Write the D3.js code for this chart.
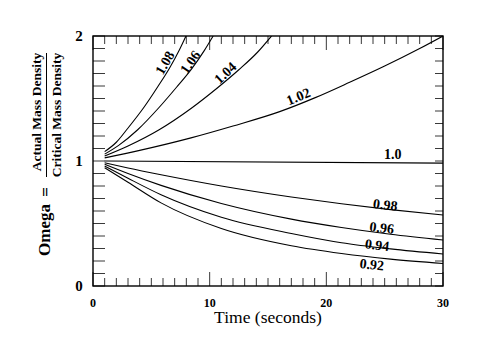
<!DOCTYPE html>
<html>
<head>
<meta charset="utf-8">
<script src="https://cdn.jsdelivr.net/npm/d3@7"></script>
<style>
  html, body { margin: 0; padding: 0; background: #fff; }
  svg { display: block; }
  text { font-family: "Liberation Serif", "DejaVu Serif", serif; fill: #000; }
</style>
</head>
<body>
<svg id="chart" width="479" height="349"></svg>
<script>
// ---- data ----
const times108 = [1, 2, 2.97, 4.4, 5.55, 6.54, 7.4, 7.97];
const omega108 = [1.075, 1.15, 1.26, 1.434, 1.594, 1.74, 1.888, 2.0];

const times106 = [1, 2.2, 3.83, 5.68, 7.16, 8.44, 9.55, 10.3];
const omega106 = [1.055, 1.125, 1.25, 1.43, 1.59, 1.735, 1.885, 2.0];

const times104 = [1, 3, 5.67, 8.4, 10.6, 12.5, 14.1, 15.3];
const omega104 = [1.04, 1.12, 1.25, 1.42, 1.58, 1.73, 1.87, 2.0];

const times102 = [1, 4, 8.4, 12, 16, 19, 22, 25, 28, 30];
const omega102 = [1.025, 1.085, 1.185, 1.28, 1.395, 1.505, 1.63, 1.76, 1.90, 2.0];

const times100 = [1, 30];
const omega100 = [1.0, 0.983];

const timesLow = [1, 3, 5.83, 11, 17, 21.3, 25.5, 30];
const omega098 = [0.986, 0.944, 0.89, 0.80, 0.712, 0.658, 0.611, 0.568];
const omega096 = [0.974, 0.90, 0.805, 0.66, 0.535, 0.468, 0.414, 0.368];
const omega094 = [0.96, 0.862, 0.73, 0.55, 0.42, 0.346, 0.297, 0.256];
const omega092 = [0.946, 0.83, 0.665, 0.46, 0.322, 0.26, 0.215, 0.18];

const curveNames = ["1.08", "1.06", "1.04", "1.02", "1.0", "0.98", "0.96", "0.94", "0.92"];
const xTickLabels = ["0", "10", "20", "30"];
const yTickLabels = ["0", "1", "2"];

// label anchors in data units (t, omega) and rotation
const labelT = [6.17, 8.35, 11.35, 17.6, 25.7, 25.05, 24.75, 24.35, 23.9];
const labelO = [1.784, 1.79, 1.704, 1.515, 1.05, 0.648, 0.464, 0.326, 0.17];
const labelRot = [-60, -55, -43, -22, 0, 7, 7, 7, 6];

// ---- build ----
const series = [
  [times108, omega108], [times106, omega106], [times104, omega104],
  [times102, omega102], [times100, omega100],
  [timesLow, omega098], [timesLow, omega096], [timesLow, omega094], [timesLow, omega092]
].map(([t, o], i) => ({ name: curveNames[i], pts: t.map((v, j) => [v, o[j]]) }));

const svg = d3.select("#chart");
svg.append("rect").attr("width", 479).attr("height", 349).attr("fill", "#fff");

const x0 = 93, x1 = 443, y0 = 286, y1 = 36;
const x = d3.scaleLinear().domain([0, 30]).range([x0, x1]);
const y = d3.scaleLinear().domain([0, 2]).range([y0, y1]);

svg.append("defs").append("clipPath").attr("id", "clip")
  .append("rect").attr("x", x0).attr("y", y1).attr("width", x1 - x0).attr("height", y0 - y1);

// ticks
const minorX = d3.range(0, 31, 1);
const ticksG = svg.append("g").attr("stroke", "#222").attr("stroke-width", 0.9);
minorX.forEach(v => {
  const len = (v % 10 === 0) ? 14 : 8;
  ticksG.append("line").attr("x1", x(v)).attr("x2", x(v)).attr("y1", y0).attr("y2", y0 - len);
  ticksG.append("line").attr("x1", x(v)).attr("x2", x(v)).attr("y1", y1).attr("y2", y1 + len);
});
const minorY = d3.range(0, 21, 1).map(d => d / 10);
minorY.forEach(v => {
  ticksG.append("line").attr("x1", x0).attr("x2", x0 + 12).attr("y1", y(v)).attr("y2", y(v));
  ticksG.append("line").attr("x1", x1).attr("x2", x1 - 8).attr("y1", y(v)).attr("y2", y(v));
});

// frame
svg.append("rect").attr("x", x0).attr("y", y1).attr("width", x1 - x0).attr("height", y0 - y1)
  .attr("fill", "none").attr("stroke", "#000").attr("stroke-width", 1.4);

// curves
const line = d3.line().x(d => x(d[0])).y(d => y(d[1])).curve(d3.curveMonotoneX);
svg.append("g").attr("clip-path", "url(#clip)")
  .selectAll("path").data(series).join("path")
  .attr("d", d => line(d.pts))
  .attr("fill", "none").attr("stroke", "#000").attr("stroke-width", 1.1);

// curve labels
svg.append("g").selectAll("text").data(series).join("text")
  .attr("transform", (d, i) => `translate(${x(labelT[i])},${y(labelO[i])}) rotate(${labelRot[i]})`)
  .attr("text-anchor", "middle").attr("dominant-baseline", "central")
  .attr("font-size", 14).attr("font-weight", "bold")
  .text(d => d.name);

// x tick labels
svg.append("g").selectAll("text").data(xTickLabels).join("text")
  .attr("x", d => x(+d)).attr("y", 307)
  .attr("text-anchor", "middle").attr("font-size", 12).attr("font-weight", "bold")
  .text(d => d);

// y tick labels
svg.append("g").selectAll("text").data(yTickLabels).join("text")
  .attr("x", 79).attr("y", d => y(+d))
  .attr("text-anchor", "middle").attr("dominant-baseline", "central")
  .attr("font-size", 15).attr("font-weight", "bold")
  .text(d => d);

// x axis title
svg.append("text").attr("x", 268).attr("y", 323).attr("text-anchor", "middle")
  .attr("font-size", 17.5).text("Time (seconds)");

// y axis title
const yt = svg.append("g");
yt.append("text").attr("transform", "translate(50,230) rotate(-90)")
  .attr("text-anchor", "middle").attr("font-size", 17).attr("font-weight", "bold").text("Omega");
yt.append("text").attr("transform", "translate(51,192) rotate(-90)")
  .attr("text-anchor", "middle").attr("font-size", 17).attr("font-weight", "bold").text("=");
yt.append("line").attr("x1", 46.5).attr("x2", 46.5).attr("y1", 53).attr("y2", 177)
  .attr("stroke", "#000").attr("stroke-width", 1);
yt.append("text").attr("transform", "translate(41,112) rotate(-90)")
  .attr("text-anchor", "middle").attr("font-size", 13.5).attr("font-weight", "bold").text("Actual Mass Density");
yt.append("text").attr("transform", "translate(61,115) rotate(-90)")
  .attr("text-anchor", "middle").attr("font-size", 13.5).attr("font-weight", "bold").text("Critical Mass Density");
</script>
</body>
</html>
